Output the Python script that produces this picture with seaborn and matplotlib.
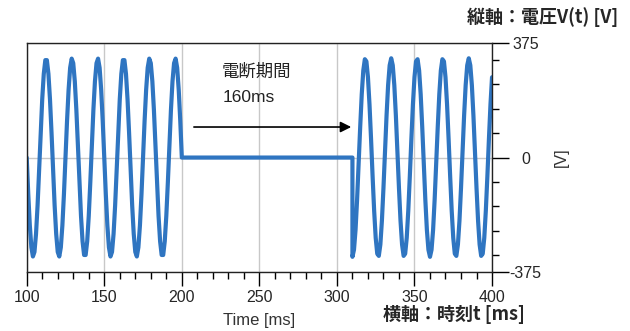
import numpy as np
import pandas as pd
import seaborn as sns
import matplotlib.pyplot as plt
from matplotlib.ticker import MultipleLocator, FixedLocator

sns.set_theme(style="white")
plt.rcParams['font.family'] = ['Liberation Sans', 'Noto Sans CJK JP', 'DejaVu Sans']
plt.rcParams['axes.unicode_minus'] = False

time_on1 = np.arange(100, 201)
volt_on1 = [0, -120, -222, -294, -324, -309, -250, -157, -41, 81,
            191, 274, 319, 319, 274, 191, 81, -41, -157, -250,
            -309, -324, -294, -222, -120, 0, 120, 222, 294, 324,
            309, 250, 157, 41, -81, -191, -274, -319, -319, -274,
            -191, -81, 41, 157, 250, 309, 324, 294, 222, 120,
            0, -120, -222, -294, -324, -309, -250, -157, -41, 81,
            191, 274, 319, 319, 274, 191, 81, -41, -157, -250,
            -309, -324, -294, -222, -120, 0, 120, 222, 294, 324,
            309, 250, 157, 41, -81, -191, -274, -319, -319, -274,
            -191, -81, 41, 157, 250, 309, 324, 294, 222, 120,
            0]
# outage: voltage held at zero
time_off = [200, 310]
volt_off = [0, 0]
time_on2 = np.arange(310, 401)
volt_on2 = [-325, -302, -237, -138, -20, 100, 207, 285, 322, 315,
            263, 174, 61, -61, -174, -263, -315, -322, -285, -207,
            -100, 20, 138, 237, 302, 325, 302, 237, 138, 20,
            -100, -207, -285, -322, -315, -263, -174, -61, 61, 174,
            263, 315, 322, 285, 207, 100, -20, -138, -237, -302,
            -325, -302, -237, -138, -20, 100, 207, 285, 322, 315,
            263, 174, 61, -61, -174, -263, -315, -322, -285, -207,
            -100, 20, 138, 237, 302, 325, 302, 237, 138, 20,
            -100, -207, -285, -322, -315, -263, -174, -61, 61, 174,
            263]

x_major = [100, 150, 200, 250, 300, 350, 400]
y_major = [-375, 0, 375]
y_minor = [-320, -240, -160, -80, 80, 160, 240, 320]

df = pd.DataFrame({
    't': np.concatenate([time_on1, time_off, time_on2]),
    'v': volt_on1 + volt_off + volt_on2,
})

fig = plt.figure(figsize=(6.3, 3.31), dpi=100)
ax = fig.add_axes([0.0424, 0.178, 0.7386, 0.692])

sns.lineplot(data=df, x='t', y='v', ax=ax, color='#2f75c1', lw=3,
             estimator=None, sort=False)

ax.set_xlim(100, 400)
ax.set_ylim(-375, 375)
ax.xaxis.set_major_locator(FixedLocator(x_major))
ax.xaxis.set_minor_locator(MultipleLocator(10))
ax.yaxis.set_major_locator(FixedLocator(y_major))
ax.yaxis.set_minor_locator(FixedLocator(y_minor))
ax.yaxis.tick_right()
ax.yaxis.set_label_position('right')

ax.tick_params(axis='x', which='major', direction='out', length=10, width=1,
               color='black', labelsize=11.5, pad=3, bottom=True)
ax.tick_params(axis='x', which='minor', direction='out', length=5, width=1,
               color='black', bottom=True)
ax.tick_params(axis='y', which='major', direction='out', length=12, width=1,
               color='black', labelsize=11.5, pad=12, right=True, left=False)
ax.tick_params(axis='y', which='minor', direction='out', length=5, width=1,
               color='black', right=True, left=False)
for lab in ax.get_yticklabels():
    lab.set_horizontalalignment('center')

ax.set_xlabel('Time [ms]', fontsize=12, color='#333333', labelpad=6)
ax.set_ylabel('[V]', fontsize=11.5, color='#333333', labelpad=9, rotation=90)

ax.grid(True, which='major', color='#c8c8c8', lw=1)
for s in ax.spines.values():
    s.set_visible(True)
    s.set_color('#222222')
    s.set_linewidth(1)

ax.annotate('', xy=(311, 100), xytext=(206, 100),
            arrowprops=dict(arrowstyle='-|>', color='black', lw=1.2,
                            mutation_scale=16))
ax.text(226, 280, '電断期間', fontsize=12.5, family=['Noto Sans CJK JP'],
        va='center', ha='left', color='#222222')
ax.text(226, 198, '160ms', fontsize=12.5, va='center', ha='left', color='#222222')

fig.text(618 / 630, 1 - 17 / 331, '縦軸：電圧V(t) [V]', fontsize=13,
         fontweight='bold', family=['Noto Sans CJK JP'], ha='right', va='center')
fig.text(383 / 630, 1 - 314 / 331, '横軸：時刻t [ms]', fontsize=13,
         fontweight='bold', family=['Noto Sans CJK JP'], ha='left', va='center')

fig.savefig('out.png', dpi=100)
